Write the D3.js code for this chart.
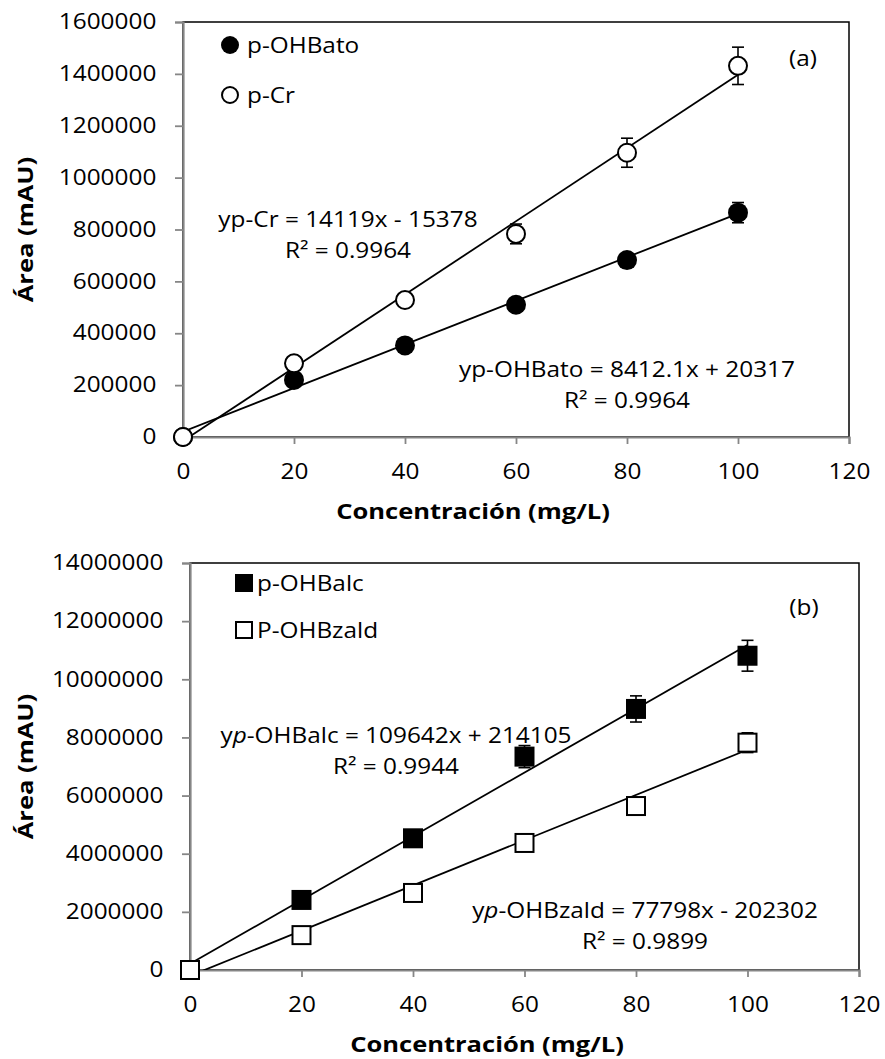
<!DOCTYPE html>
<html>
<head>
<meta charset="utf-8">
<script src="https://cdn.jsdelivr.net/npm/d3@7"></script>
<style>
  html, body { margin: 0; padding: 0; background: #fff; }
  svg { display: block; }
  text { font-family: "Open Sans", sans-serif; fill: #000; }
</style>
</head>
<body>
<svg id="chart" width="885" height="1059"></svg>
<script>
// ---------- DATA ----------
const conc = [0, 20, 40, 60, 80, 100];
const xTickValues = [0, 20, 40, 60, 80, 100, 120];

// Chart (a)
const yTicksA = [0, 200000, 400000, 600000, 800000, 1000000, 1200000, 1400000, 1600000];
const ohbato = [0, 220000, 353000, 510000, 682000, 865000];
const ohbatoErr = [0, 8000, 8000, 10000, 15000, 39000];
const pcr = [0, 284000, 528000, 783000, 1096000, 1431000];
const pcrErr = [0, 8000, 10000, 38000, 56000, 72000];
const trendA = [ { slope: 8412.1, intercept: 20317 }, { slope: 14119, intercept: -15378 } ];

// Chart (b)
const yTicksB = [0, 2000000, 4000000, 6000000, 8000000, 10000000, 12000000, 14000000];
const ohbalc = [0, 2410000, 4530000, 7340000, 8980000, 10810000];
const ohbalcErr = [0, 100000, 150000, 380000, 450000, 530000];
const ohbzald = [0, 1200000, 2650000, 4370000, 5640000, 7820000];
const ohbzaldErr = [0, 80000, 100000, 120000, 150000, 340000];
const trendB = [ { slope: 109642, intercept: 214105 }, { slope: 77798, intercept: -202302 } ];

const legendA = ["p-OHBato", "p-Cr"];
const legendB = ["p-OHBalc", "P-OHBzald"];

// ---------- DRAWING ----------
const SX = 1.16;          // horizontal text stretch
const FS = 21;            // base font size
const svg = d3.select("#chart");

function label(g, x, y, parts, opt = {}) {
  const t = g.append("text")
    .attr("transform", `translate(${x},${y}) scale(${SX},1)`)
    .attr("text-anchor", opt.anchor || "middle")
    .style("font-size", (opt.size || FS) + "px")
    .style("font-weight", opt.weight || "normal");
  if (typeof parts === "string") parts = [{ t: parts }];
  parts.forEach(p => {
    const s = t.append("tspan").text(p.t);
    if (p.italic) s.style("font-style", "italic");
  });
  return t;
}

function drawChart(cfg) {
  const g = svg.append("g");
  const x = d3.scaleLinear().domain([0, 120]).range([cfg.left, cfg.right]);
  const y = d3.scaleLinear().domain([0, cfg.yMax]).range([cfg.bottom, cfg.top]);

  // plot border (top & right black)
  g.append("rect")
    .attr("x", cfg.left).attr("y", cfg.top)
    .attr("width", cfg.right - cfg.left).attr("height", cfg.bottom - cfg.top)
    .attr("fill", "none").attr("stroke", "#000").attr("stroke-width", 1.5);

  // axes
  const yAxis = g.append("g").attr("transform", `translate(${cfg.left},0)`)
    .call(d3.axisLeft(y).tickValues(cfg.yTicks).tickSize(8).tickPadding(15).tickFormat(d3.format("d")));
  const xAxis = g.append("g").attr("transform", `translate(0,${cfg.bottom})`)
    .call(d3.axisBottom(x).tickValues(xTickValues).tickSize(7).tickPadding(20).tickFormat(d3.format("d")));
  [yAxis, xAxis].forEach(a => {
    a.select(".domain").attr("stroke", "#868686").attr("stroke-width", 2.2);
    a.selectAll(".tick line").attr("stroke", "#868686").attr("stroke-width", 1.8);
    a.selectAll(".tick text")
      .style("font-size", FS + "px")
      .style("font-family", "'Open Sans', sans-serif")
      .attr("fill", "#000");
  });
  yAxis.selectAll(".tick text").attr("transform", `scale(${SX},1)`).attr("x", -23);
  xAxis.selectAll(".tick text").attr("transform", `scale(${SX},1)`).attr("x", 0);

  // clip for trendlines
  const clipId = "clip" + cfg.id;
  g.append("clipPath").attr("id", clipId).append("rect")
    .attr("x", cfg.left).attr("y", cfg.top)
    .attr("width", cfg.right - cfg.left).attr("height", cfg.bottom - cfg.top);

  const line = d3.line().x(d => x(d[0])).y(d => y(d[1]));
  cfg.trends.forEach(tr => {
    g.append("path")
      .attr("clip-path", `url(#${clipId})`)
      .attr("d", line([[0, tr.intercept], [100, tr.slope * 100 + tr.intercept]]))
      .attr("fill", "none").attr("stroke", "#000").attr("stroke-width", 1.8);
  });

  // error bars and markers
  cfg.series.forEach(s => {
    const eg = g.append("g");
    conc.forEach((c, i) => {
      const e = s.err[i];
      if (!e) return;
      const cx = x(c), y1 = y(s.vals[i] + e), y2 = y(s.vals[i] - e);
      eg.append("line").attr("x1", cx).attr("x2", cx).attr("y1", y1).attr("y2", y2)
        .attr("stroke", "#000").attr("stroke-width", 1.6);
      [y1, y2].forEach(yy => eg.append("line")
        .attr("x1", cx - 6).attr("x2", cx + 6).attr("y1", yy).attr("y2", yy)
        .attr("stroke", "#000").attr("stroke-width", 1.6));
    });
  });
  cfg.series.forEach(s => {
    conc.forEach((c, i) => drawMarker(g, s.shape, s.filled, x(c), y(s.vals[i]), s.size));
  });

  // legend
  cfg.legend.forEach((L, i) => {
    drawMarker(g, L.shape, L.filled, cfg.legX, cfg.legY[i], L.size);
    label(g, cfg.legX + cfg.legGap, cfg.legY[i] + 7.5, L.text, { anchor: "start" });
  });

  // panel letter
  label(g, cfg.tagX, cfg.tagY, cfg.tag, { anchor: "middle" });

  // equations
  cfg.eqs.forEach(eq => {
    label(g, eq.x, eq.y, eq.parts, { anchor: "middle" });
    label(g, eq.x, eq.y + 31, eq.r2, { anchor: "middle" });
  });

  // axis titles
  label(g, cfg.xTitleX, cfg.bottom + 82, "Concentración (mg/L)", { weight: "bold", size: 22 });
  g.append("text")
    .attr("transform", `translate(${cfg.yTitleX},${(cfg.top + cfg.bottom) / 2}) rotate(-90) scale(${SX},1)`)
    .attr("text-anchor", "middle")
    .style("font-size", "22px").style("font-weight", "bold")
    .text("Área (mAU)");
}

function drawMarker(g, shape, filled, cx, cy, size) {
  if (shape === "circle") {
    g.append("circle").attr("cx", cx).attr("cy", cy).attr("r", filled ? size : size - 1)
      .attr("fill", filled ? "#000" : "#fff")
      .attr("stroke", "#000").attr("stroke-width", filled ? 0 : 2);
  } else {
    const h = filled ? size : size - 1;
    g.append("rect").attr("x", cx - h).attr("y", cy - h).attr("width", 2 * h).attr("height", 2 * h)
      .attr("fill", filled ? "#000" : "#fff")
      .attr("stroke", "#000").attr("stroke-width", filled ? 0 : 2);
  }
}

drawChart({
  id: "A", left: 183, right: 849, top: 22, bottom: 437, yMax: 1600000, yTicks: yTicksA,
  trends: trendA,
  series: [
    { vals: ohbato, err: ohbatoErr, shape: "circle", filled: true, size: 10 },
    { vals: pcr, err: pcrErr, shape: "circle", filled: false, size: 10 }
  ],
  legend: [
    { text: legendA[0], shape: "circle", filled: true, size: 9 },
    { text: legendA[1], shape: "circle", filled: false, size: 9 }
  ],
  legX: 230, legY: [45, 95], legGap: 17,
  tag: "(a)", tagX: 803, tagY: 66,
  eqs: [
    { x: 348, y: 227, parts: [{ t: "yp-Cr = 14119x - 15378" }], r2: "R² = 0.9964" },
    { x: 627, y: 377, parts: [{ t: "yp-OHBato = 8412.1x + 20317" }], r2: "R² = 0.9964" }
  ],
  xTitleX: 473, yTitleX: 33
});

drawChart({
  id: "B", left: 190, right: 859, top: 563, bottom: 970, yMax: 14000000, yTicks: yTicksB,
  trends: trendB,
  series: [
    { vals: ohbalc, err: ohbalcErr, shape: "square", filled: true, size: 10 },
    { vals: ohbzald, err: ohbzaldErr, shape: "square", filled: false, size: 10 }
  ],
  legend: [
    { text: legendB[0], shape: "square", filled: true, size: 9 },
    { text: legendB[1], shape: "square", filled: false, size: 9 }
  ],
  legX: 244, legY: [583, 630], legGap: 13,
  tag: "(b)", tagX: 804, tagY: 615,
  eqs: [
    { x: 396, y: 743, parts: [{ t: "y" }, { t: "p", italic: true }, { t: "-OHBalc = 109642x + 214105" }], r2: "R² = 0.9944" },
    { x: 645, y: 918, parts: [{ t: "y" }, { t: "p", italic: true }, { t: "-OHBzald = 77798x - 202302" }], r2: "R² = 0.9899" }
  ],
  xTitleX: 487, yTitleX: 33
});
</script>
</body>
</html>
